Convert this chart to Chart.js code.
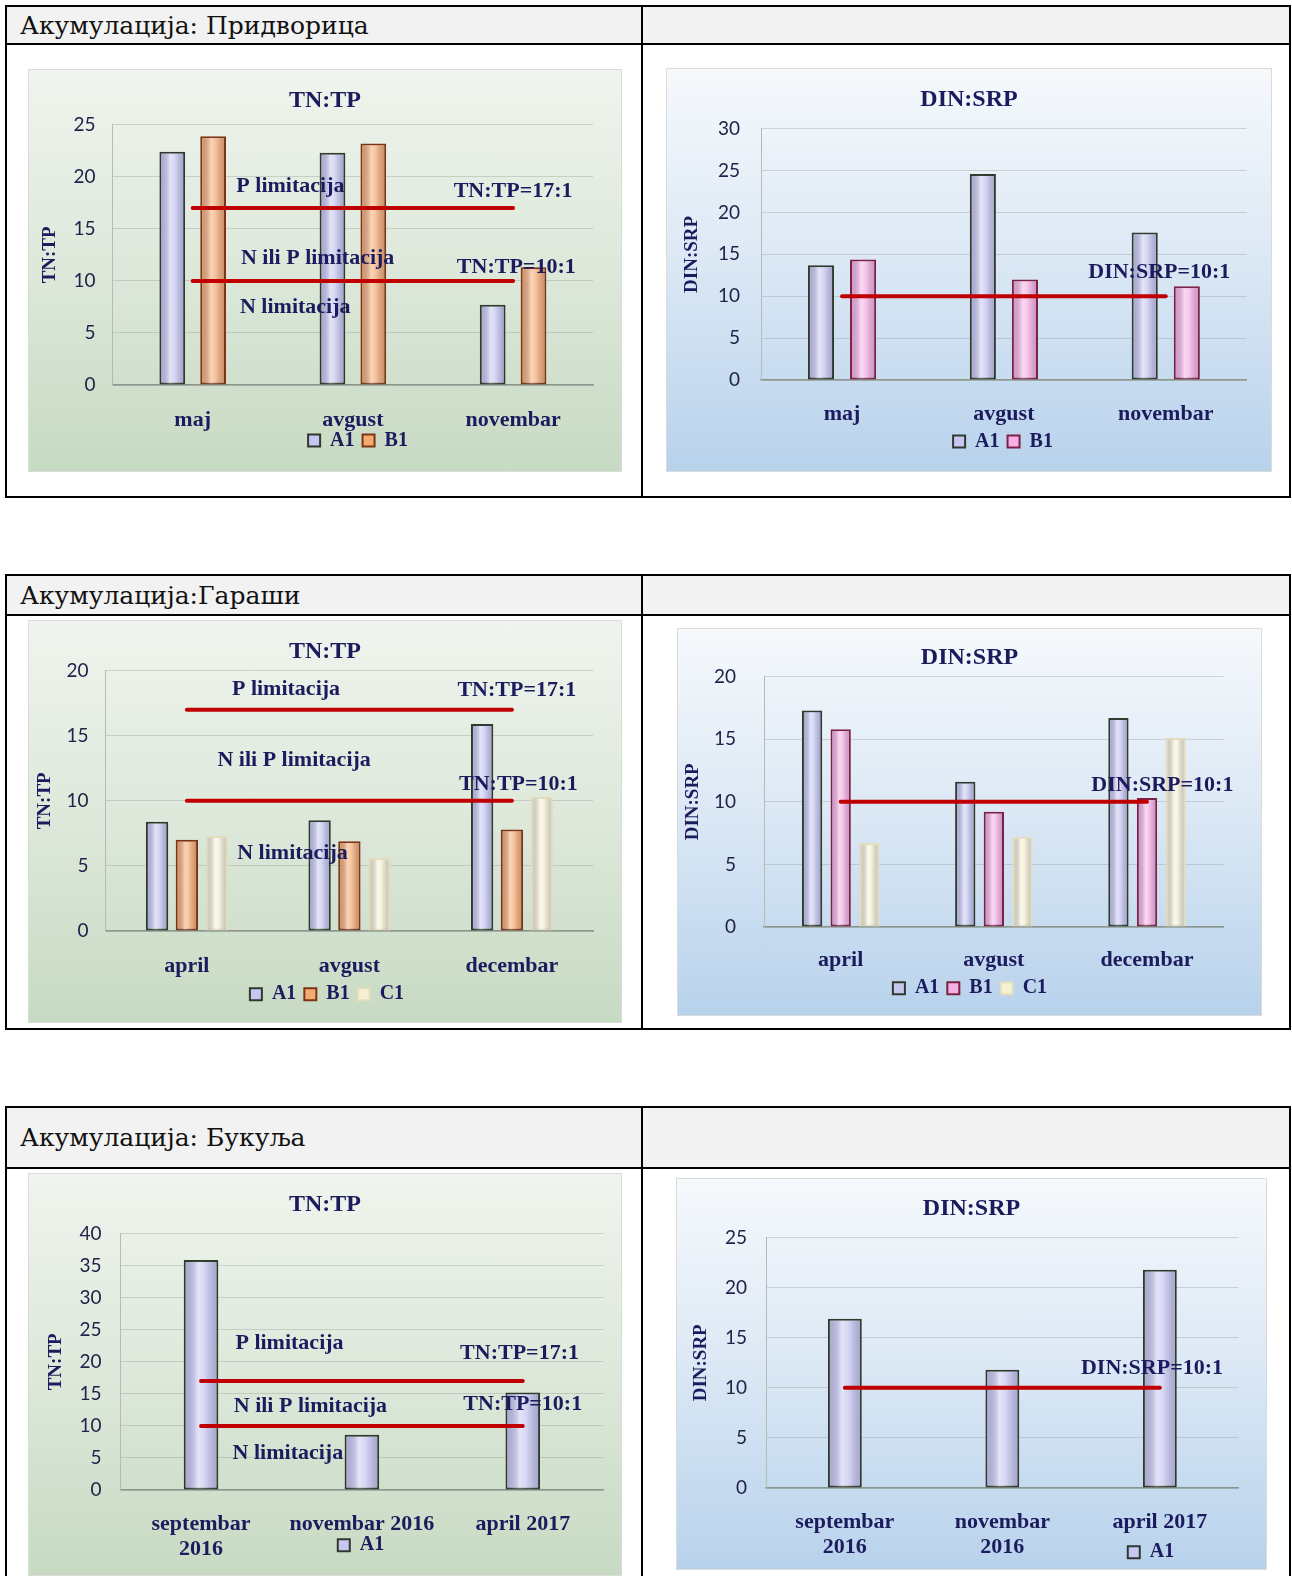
<!DOCTYPE html>
<html>
<head>
<meta charset="utf-8">
<script src="https://cdn.jsdelivr.net/npm/chart.js@4.4.1/dist/chart.umd.min.js"></script>
<style>
body { margin: 0; background: #fff; width: 1292px; height: 1576px; overflow: hidden; position: relative; }
.tbl { position: absolute; left: 5px; width: 1286px; border: 2px solid #000; box-sizing: border-box; }
.hdr { position: absolute; left: 0; right: 0; top: 0; background: #f2f2f2; border-bottom: 2px solid #000; box-sizing: border-box; display: flex; align-items: center; padding-left: 13px; font-family: 'DejaVu Serif', serif; font-size: 25px; color: #111; }
.vline { position: absolute; top: 0; bottom: 0; left: 634px; width: 2px; background: #000; }
.box { position: absolute; box-shadow: inset 0 0 0 1px #d9dcd9; }
.green { background: linear-gradient(180deg, #f0f4ee 0%, #dde8da 50%, #c7dac3 100%); }
.blue { background: linear-gradient(180deg, #f6f9fc 0%, #dde9f5 45%, #b8d2ec 100%); }
.box canvas { position: absolute; left: 0; top: 0; }
</style>
</head>
<body>

<div class="tbl" style="top:5px;height:493px"><div class="hdr" style="height:38px">Акумулација: Придворица</div><div class="vline"></div></div>
<div class="tbl" style="top:574px;height:456px"><div class="hdr" style="height:40px">Акумулација:Гараши</div><div class="vline"></div></div>
<div class="tbl" style="top:1106px;height:480px"><div class="hdr" style="height:61px">Акумулација: Букуља</div><div class="vline"></div></div>

<div id="c1" class="box green"></div>
<div id="c2" class="box blue"></div>
<div id="c3" class="box green"></div>
<div id="c4" class="box blue"></div>
<div id="c5" class="box green"></div>
<div id="c6" class="box blue"></div>

<script>
// Akumulacija Pridvorica
const pridvoricaMonths = ['maj', 'avgust', 'novembar'];
const pridvoricaTnTpA1 = [22.4, 22.3, 7.7];
const pridvoricaTnTpB1 = [23.9, 23.2, 11.3];
const pridvoricaDinSrpA1 = [13.7, 24.6, 17.6];
const pridvoricaDinSrpB1 = [14.4, 12.0, 11.2];

// Akumulacija Garasi
const garasiMonths = ['april', 'avgust', 'decembar'];
const garasiTnTpA1 = [8.4, 8.5, 15.9];
const garasiTnTpB1 = [7.0, 6.9, 7.8];
const garasiTnTpC1 = [7.3, 5.6, 10.3];
const garasiDinSrpA1 = [17.3, 11.6, 16.7];
const garasiDinSrpB1 = [15.8, 9.2, 10.3];
const garasiDinSrpC1 = [6.7, 7.2, 15.1];

// Akumulacija Bukulja
const bukuljaTnTpMonths = [['septembar', '2016'], 'novembar 2016', 'april 2017'];
const bukuljaDinSrpMonths = [['septembar', '2016'], ['novembar', '2016'], 'april 2017'];
const bukuljaTnTpA1 = [35.9, 8.6, 15.2];
const bukuljaDinSrpA1 = [16.9, 11.8, 21.8];

// limit lines (ratio 17:1 and 10:1)
const tnTpPLimit = [17, 17, 17];
const tnTpNLimit = [10, 10, 10];
const dinSrpLimit = [10, 10, 10];

// y axis tops
const yMaxes = [25, 30, 20, 20, 40, 25];

const serif = "'Liberation Serif', 'Times New Roman', serif";
const navy = '#1b1b5e';

const colA1 = '#c7c7f1', lineA1 = '#2f3a2c';
const colB1tn = '#f4ab72', lineB1tn = '#7d3414';
const colB1din = '#f5b1e3', lineB1din = '#7c2046';
const colC1 = '#f4f0d4', lineC1 = '#e3ddbd';

function bars(label, data, fill, border) {
	return { type: 'bar', label: label, data: data, backgroundColor: fill, borderColor: border, borderWidth: 2, borderSkipped: false, order: 1 };
}

function limit(data) {
	return { type: 'line', label: 'limit', data: data, borderColor: '#c00000', borderWidth: 4, pointRadius: 0, borderCapStyle: 'round', order: 0 };
}

//text labels for the limitation zones
const notesPlugin = {
	id: 'notes',
	afterDatasetsDraw(chart, args, opts) {
		const ctx = chart.ctx, x = chart.scales.x, y = chart.scales.y;
		ctx.save();
		ctx.font = 'bold 22px ' + serif;
		ctx.fillStyle = navy;
		ctx.textAlign = 'center';
		ctx.textBaseline = 'middle';
		(opts.items || []).forEach(n => ctx.fillText(n.text, x.getPixelForValue(n.x), y.getPixelForValue(n.y)));
		ctx.restore();
	}
};

//cylinder-like shading on the bars
const shinePlugin = {
	id: 'shine',
	afterDatasetDraw(chart, args) {
		if (args.meta.type !== 'bar') return;
		const ctx = chart.ctx;
		args.meta.data.forEach(el => {
			const p = el.getProps(['x', 'y', 'base', 'width'], true);
			const l = p.x - p.width / 2 + 2, w = p.width - 4, h = p.base - p.y - 3;
			if (h <= 0) return;
			const g = ctx.createLinearGradient(l, 0, l + w, 0);
			g.addColorStop(0, 'rgba(60,60,90,0.18)');
			g.addColorStop(0.4, 'rgba(255,255,255,0.5)');
			g.addColorStop(0.6, 'rgba(255,255,255,0.3)');
			g.addColorStop(1, 'rgba(60,60,90,0.22)');
			ctx.save();
			ctx.fillStyle = g;
			ctx.fillRect(l, p.y + 2, w, h);
			ctx.restore();
		});
	}
};

//title centred on the whole panel, legend moved where the excel chart had it
function placeBoxes(titleX, legX, legTop) {
	return {
		id: 'place',
		afterLayout(chart) {
			const t = chart.titleBlock;
			let d = titleX - (t.left + t.right) / 2;
			t.left += d;
			t.right += d;
			const lg = chart.legend;
			d = legX - (lg.left + lg.right) / 2;
			lg.left += d;
			lg.right += d;
			const h = lg.bottom - lg.top;
			lg.top = legTop;
			lg.bottom = legTop + h;
		}
	};
}

function panel(id, L, o) {
	const box = document.getElementById(id);
	const W = Math.round(L.right - L.left), H = Math.round(L.bottom - L.top);
	box.style.left = L.left + 'px';
	box.style.top = L.top + 'px';
	box.style.width = W + 'px';
	box.style.height = H + 'px';
	const cv = document.createElement('canvas');
	cv.width = W;
	cv.height = H;
	box.appendChild(cv);

	const pTop = L.plotTop - L.top, pBot = L.plotBottom - L.top;
	const legFont = 20, legPad = 8;
	const legH = legFont + legPad + 10;
	const titleLH = 24 * 1.2;
	const catLH = 22 * 1.15;
	const tickPad = (L.catY - L.plotBottom) - catLH / 2;
	const lines = Math.max(...o.labels.map(v => Array.isArray(v) ? v.length : 1));
	const xH = tickPad + lines * catLH + 4;

	new Chart(cv, {
		type: 'bar',
		data: { labels: o.labels, datasets: o.datasets },
		options: {
			responsive: false,
			animation: false,
			layout: { padding: { left: 0, top: 0, right: L.right - L.plotRight, bottom: H - pBot - xH - legH } },
			datasets: { bar: { categoryPercentage: o.cat, barPercentage: o.bar } },
			plugins: {
				title: {
					display: true, text: o.title, color: navy,
					font: { family: serif, size: 24, weight: 'bold' },
					padding: { top: (L.titleY - L.top) - titleLH / 2, bottom: pTop - (L.titleY - L.top) - titleLH / 2 }
				},
				legend: {
					position: 'bottom',
					labels: {
						filter: (it, d) => d.datasets[it.datasetIndex].type === 'bar',
						color: navy, font: { family: serif, size: legFont, weight: 'bold' },
						boxWidth: 12, boxHeight: 12, padding: legPad
					}
				},
				tooltip: { enabled: false },
				notes: { items: o.notes }
			},
			scales: {
				x: {
					grid: { display: false, drawTicks: false },
					border: { color: '#8c958c', width: 1.5 },
					ticks: {
						color: navy, autoSkip: false, maxRotation: 0,
						font: { family: serif, size: 22, weight: 'bold', lineHeight: 1.15 },
						padding: tickPad
					},
					afterFit: s => { s.height = xH; }
				},
				y: {
					min: 0, max: o.yMax,
					ticks: { stepSize: 5, color: '#22224a', font: { family: 'Lato', size: 19 }, padding: L.tickGap },
					grid: { color: 'rgba(130,140,130,0.3)', drawTicks: false },
					border: { color: '#b4bcb4' },
					title: {
						display: true, text: o.yTitle, color: navy,
						font: { family: serif, size: 19, weight: 'bold' },
						padding: { top: (L.yTitleX - L.left) - 11.4, bottom: 0 }
					},
					afterFit: s => { s.width = L.plotLeft - L.left; }
				}
			}
		},
		plugins: [notesPlugin, shinePlugin, placeBoxes(W / 2, L.legendX - L.left, (L.legendY - L.top) - legPad - legFont / 2)]
	});
}

// Pridvorica TN:TP
panel('c1',
	{ left: 28, top: 69, right: 622, bottom: 472, plotLeft: 112.6, plotRight: 593.2, plotTop: 124.7, plotBottom: 385,
	  titleY: 100.5, catY: 420.3, legendY: 440.4, legendX: 358, yTitleX: 50.3, tickGap: 17 },
	{ title: 'TN:TP', yTitle: 'TN:TP', yMax: yMaxes[0], labels: pridvoricaMonths, cat: 0.51, bar: 0.63,
	  datasets: [bars('A1', pridvoricaTnTpA1, colA1, lineA1), bars('B1', pridvoricaTnTpB1, colB1tn, lineB1tn), limit(tnTpPLimit), limit(tnTpNLimit)],
	  notes: [{ text: 'P limitacija', x: 0.61, y: 19.1 }, { text: 'TN:TP=17:1', x: 2.0, y: 18.6 },
	          { text: 'N ili P limitacija', x: 0.78, y: 12.2 }, { text: 'TN:TP=10:1', x: 2.02, y: 11.3 },
	          { text: 'N limitacija', x: 0.64, y: 7.5 }] });

// Pridvorica DIN:SRP
panel('c2',
	{ left: 666, top: 68, right: 1272, bottom: 472, plotLeft: 761.1, plotRight: 1246.7, plotTop: 128.7, plotBottom: 380,
	  titleY: 99.5, catY: 414.2, legendY: 441.4, legendX: 1003, yTitleX: 691.7, tickGap: 21 },
	{ title: 'DIN:SRP', yTitle: 'DIN:SRP', yMax: yMaxes[1], labels: pridvoricaMonths, cat: 0.52, bar: 0.62,
	  datasets: [bars('A1', pridvoricaDinSrpA1, colA1, lineA1), bars('B1', pridvoricaDinSrpB1, colB1din, lineB1din), limit(dinSrpLimit)],
	  notes: [{ text: 'DIN:SRP=10:1', x: 1.96, y: 12.8 }] });

// Garasi TN:TP
panel('c3',
	{ left: 28, top: 620, right: 622, bottom: 1023, plotLeft: 105.6, plotRight: 593.2, plotTop: 670.6, plotBottom: 931,
	  titleY: 651.5, catY: 966.2, legendY: 994.3, legendX: 327, yTitleX: 45.2, tickGap: 17 },
	{ title: 'TN:TP', yTitle: 'TN:TP', yMax: yMaxes[2], labels: garasiMonths, cat: 0.55, bar: 0.75,
	  datasets: [bars('A1', garasiTnTpA1, colA1, lineA1), bars('B1', garasiTnTpB1, colB1tn, lineB1tn), bars('C1', garasiTnTpC1, colC1, lineC1),
	             limit(tnTpPLimit), limit(tnTpNLimit)],
	  notes: [{ text: 'P limitacija', x: 0.61, y: 18.6 }, { text: 'TN:TP=17:1', x: 2.03, y: 18.5 },
	          { text: 'N ili P limitacija', x: 0.66, y: 13.1 }, { text: 'TN:TP=10:1', x: 2.04, y: 11.3 },
	          { text: 'N limitacija', x: 0.65, y: 6.0 }] });

// Garasi DIN:SRP
panel('c4',
	{ left: 677, top: 628, right: 1262, bottom: 1016, plotLeft: 764.1, plotRight: 1223.6, plotTop: 676.6, plotBottom: 927,
	  titleY: 657.5, catY: 960.2, legendY: 988.3, legendX: 970, yTitleX: 692.7, tickGap: 28 },
	{ title: 'DIN:SRP', yTitle: 'DIN:SRP', yMax: yMaxes[3], labels: garasiMonths, cat: 0.56, bar: 0.71,
	  datasets: [bars('A1', garasiDinSrpA1, colA1, lineA1), bars('B1', garasiDinSrpB1, colB1din, lineB1din), bars('C1', garasiDinSrpC1, colC1, lineC1),
	             limit(dinSrpLimit)],
	  notes: [{ text: 'DIN:SRP=10:1', x: 2.1, y: 11.3 }] });

// Bukulja TN:TP
panel('c5',
	{ left: 28, top: 1173, right: 622, bottom: 1576, plotLeft: 120.6, plotRight: 603.2, plotTop: 1233.6, plotBottom: 1490,
	  titleY: 1204.5, catY: 1524.2, legendY: 1545.3, legendX: 361, yTitleX: 56.3, tickGap: 19 },
	{ title: 'TN:TP', yTitle: 'TN:TP', yMax: yMaxes[4], labels: bukuljaTnTpMonths, cat: 0.5, bar: 0.43,
	  datasets: [bars('A1', bukuljaTnTpA1, colA1, lineA1), limit(tnTpPLimit), limit(tnTpNLimit)],
	  notes: [{ text: 'P limitacija', x: 0.55, y: 22.9 }, { text: 'TN:TP=17:1', x: 1.98, y: 21.3 },
	          { text: 'N ili P limitacija', x: 0.68, y: 13.0 }, { text: 'TN:TP=10:1', x: 2.0, y: 13.3 },
	          { text: 'N limitacija', x: 0.54, y: 5.8 }] });

// Bukulja DIN:SRP
panel('c6',
	{ left: 676, top: 1178, right: 1267, bottom: 1570, plotLeft: 766.1, plotRight: 1238.6, plotTop: 1237.6, plotBottom: 1488,
	  titleY: 1208.5, catY: 1522.2, legendY: 1552.3, legendX: 1151, yTitleX: 700.8, tickGap: 19 },
	{ title: 'DIN:SRP', yTitle: 'DIN:SRP', yMax: yMaxes[5], labels: bukuljaDinSrpMonths, cat: 0.5, bar: 0.43,
	  datasets: [bars('A1', bukuljaDinSrpA1, colA1, lineA1), limit(dinSrpLimit)],
	  notes: [{ text: 'DIN:SRP=10:1', x: 1.95, y: 11.95 }] });
</script>
</body>
</html>
